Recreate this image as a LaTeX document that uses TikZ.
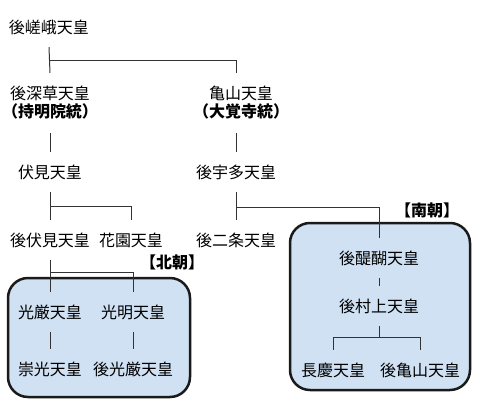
\documentclass[tikz,border=0pt]{standalone}
\usepackage{fontspec}
\setmainfont{Noto Sans CJK JP}
\usepackage{xcolor}
\definecolor{court-blue}{HTML}{D0E1F3}
\definecolor{frame-dark}{HTML}{1A1A1A}
\definecolor{line-gray}{HTML}{333333}

\tikzset{
  emperor/.style={inner sep=0pt, minimum height=40pt, font=\fontsize{16}{18}\selectfont},
  emperor2/.style={emperor, minimum height=60pt, align=center},
  court/.style={font=\fontsize{16}{18}\selectfont\bfseries, inner sep=0pt},
  courtbox/.style={draw=frame-dark, fill=court-blue, line width=2.5pt, rounded corners=20pt},
  link/.style={draw=line-gray, line width=1pt}
}

\begin{document}
\begin{tikzpicture}[x=1pt, y=-1pt]
    % Diagram: imperial line split into north and south courts.
    % Coordinates: (x, y) in px of the 480x413 frame, y grows downward
    %   north court box (8,278)-(190,397), south court box (290,223)-(470,390)
    \useasboundingbox (0,0) rectangle (480,413);
    \draw[courtbox] (8,278) rectangle (190,397);
    \draw[courtbox] (290,223) rectangle (470,390);
    \node[court] (hokucho) at (172,262) {【北朝】};
    \node[court] (nancho) at (427,210) {【南朝】};

    % main line
    \node[emperor] (gosaga) at (49,27) {後嵯峨天皇};
    \node[emperor2] (fukakusa) at (50,103) {後深草天皇\\{\bfseries（持明院統）}};
    \node[emperor2] (kameyama) at (241,103) {亀山天皇\\{\bfseries（大覚寺統）}};
    \node[emperor] (fushimi) at (50,172) {伏見天皇};
    \node[emperor] (gouda) at (236,172) {後宇多天皇};
    \node[emperor] (gofushimi) at (50,240) {後伏見天皇};
    \node[emperor] (hanazono) at (131,240) {花園天皇};
    \node[emperor] (gonijo) at (236,240) {後二条天皇};

    % north court
    \node[emperor] (kogon) at (50,312) {光厳天皇};
    \node[emperor] (komyo) at (133,312) {光明天皇};
    \node[emperor] (suko) at (50,369) {崇光天皇};
    \node[emperor] (gokogon) at (133,369) {後光厳天皇};

    % south court
    \node[emperor] (godaigo) at (379,258) {後醍醐天皇};
    \node[emperor] (gomurakami) at (379,306) {後村上天皇};
    \node[emperor] (chokei) at (333,370) {長慶天皇};
    \node[emperor] (gokameyama) at (420,370) {後亀山天皇};

    % connectors
    \draw[link] (gosaga.south) -- (fukakusa.north);
    \draw[link] (gosaga.south) ++(0,13) -| (gouda.north |- kameyama.north);
    \draw[link] (fukakusa.south) -- (fushimi.north);
    \draw[link] (gouda.north |- kameyama.south) -- (gouda.north);
    \draw[link] (fushimi.south) -- (gofushimi.north);
    \draw[link] (fushimi.south) ++(0,14) -| (hanazono.north);
    \draw[link] (gouda.south) -- (gonijo.north);
    \draw[link] (gouda.south) ++(0,15) -| (godaigo.north);
    \draw[link] (gofushimi.south) -- (kogon.north);
    \draw[link] (gofushimi.south) ++(0,12) -| (komyo.north);
    \draw[link] (kogon.south) -- (suko.north);
    \draw[link] (komyo.south) -- (gokogon.north);
    \draw[link] (godaigo.south) -- (gomurakami.north);
    \draw[link] (gomurakami.south) -- ++(0,11) -| (chokei.north);
    \draw[link] (gomurakami.south) ++(0,11) -| (gokameyama.north);
\end{tikzpicture}
\end{document}
